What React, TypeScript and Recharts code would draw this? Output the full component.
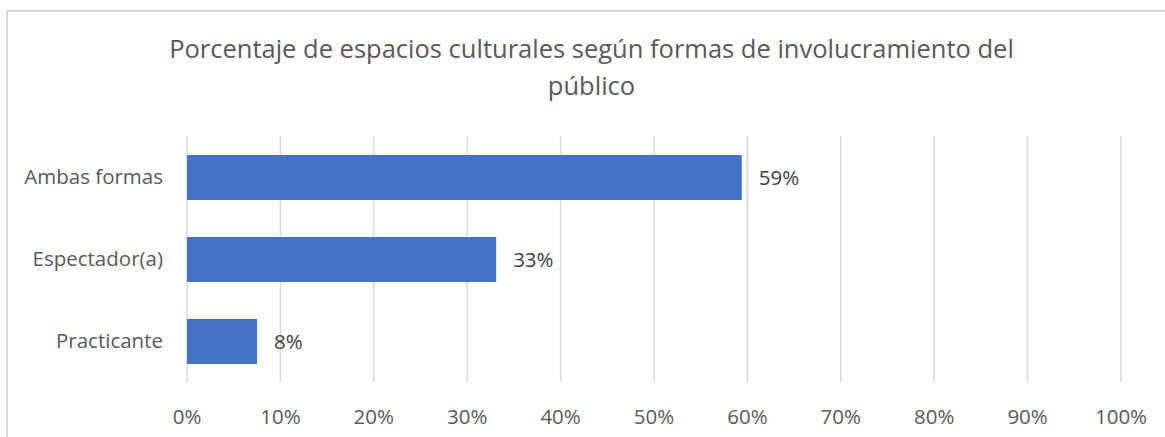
import React from "react";
import { BarChart, Bar, XAxis, YAxis, CartesianGrid, LabelList } from "recharts";

const categories = ["Ambas formas", "Espectador(a)", "Practicante"];
const values = [59.4, 33.1, 7.5];
const xTicks = [0, 10, 20, 30, 40, 50, 60, 70, 80, 90, 100];
const titleLines = [
  "Porcentaje de espacios culturales según formas de involucramiento del",
  "público",
];

const data = categories.map((c, i) => ({ name: c, value: values[i] }));

const FONT = "'Open Sans', sans-serif";

export default function App() {
  return (
    <div
      style={{
        position: "absolute",
        left: 0,
        top: 0,
        width: 1165,
        height: 437,
        overflow: "hidden",
        background: "#fff",
        fontFamily: FONT,
      }}
    >
      <div
        style={{
          position: "absolute",
          left: 6,
          top: 10,
          width: 1165,
          height: 437,
          borderLeft: "2px solid #d9d9d9",
          borderTop: "2px solid #d9d9d9",
          boxSizing: "border-box",
        }}
      />
      <div
        style={{
          position: "absolute",
          left: 0,
          top: 30,
          width: 1183,
          textAlign: "center",
          color: "#595959",
          fontSize: 25.5,
          lineHeight: "37px",
        }}
      >
        {titleLines.map((t, i) => (
          <div key={i}>{t}</div>
        ))}
      </div>
      <div style={{ position: "absolute", left: 0, top: 0 }}>
        <BarChart
          width={1165}
          height={437}
          data={data}
          layout="vertical"
          margin={{ top: 136, right: 44, bottom: 20, left: 0 }}
          barSize={45}
        >
          <CartesianGrid vertical horizontal={false} stroke="#d9d9d9" strokeWidth={1.5} />
          <XAxis
            type="number"
            domain={[0, 100]}
            ticks={xTicks}
            tickFormatter={(v: number) => `${v}%`}
            axisLine={false}
            tickLine={false}
            tickSize={0}
            tickMargin={27}
            height={35}
            interval={0}
            tick={{ fill: "#595959", fontSize: 20.5, fontFamily: FONT }}
          />
          <YAxis
            type="category"
            dataKey="name"
            width={187}
            axisLine={false}
            tickLine={false}
            tickSize={0}
            tickMargin={24}
            tick={{ fill: "#595959", fontSize: 20.5, fontFamily: FONT }}
          />
          <Bar dataKey="value" fill="#4472c4" isAnimationActive={false}>
            <LabelList
              dataKey="value"
              position="right"
              offset={17}
              formatter={(v: number) => `${Math.round(v)}%`}
              fill="#404040"
              fontSize={20.5}
              fontFamily={FONT}
            />
          </Bar>
        </BarChart>
      </div>
    </div>
  );
}
